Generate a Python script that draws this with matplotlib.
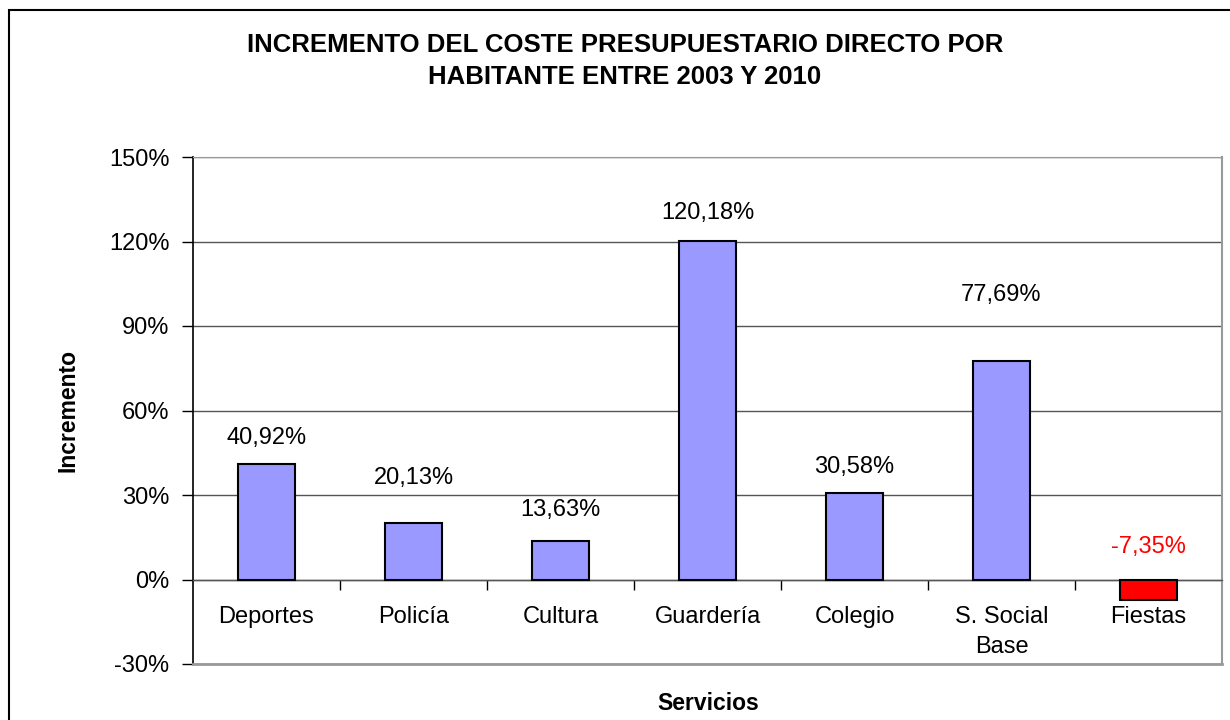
import numpy as np
import matplotlib.pyplot as plt
from matplotlib.patches import Rectangle

servicios = ["Deportes", "Policía", "Cultura", "Guardería", "Colegio", "S. Social\nBase", "Fiestas"]
incremento = [40.92, 20.13, 13.63, 120.18, 30.58, 77.69, -7.35]
etiquetas = ["40,92%", "20,13%", "13,63%", "120,18%", "30,58%", "77,69%", "-7,35%"]
# altura de las etiquetas (como en la hoja original)
etiqueta_y = [50.4, 35.9, 24.5, 130.0, 40.0, 101.0, 11.7]
ticks_y = [-30, 0, 30, 60, 90, 120, 150]

plt.rcParams['font.family'] = ['Liberation Sans', 'DejaVu Sans']

fig = plt.figure(figsize=(12.3, 7.2), dpi=100)
ax = fig.add_axes([193/1230, 1-664/720, (1222-193)/1230, (664-157)/720])

colores = ["#9999FF"] * 6 + ["#FF0000"]
x = np.arange(len(servicios))
ax.bar(x, incremento, width=0.39, color=colores, edgecolor="black", linewidth=1.5, zorder=3)

for i in range(len(x)):
    col = "red" if incremento[i] < 0 else "black"
    ax.text(x[i], etiqueta_y[i], etiquetas[i], ha="center", va="center", fontsize=17, color=col, zorder=4)

ax.set_xlim(-0.5, 6.5)
ax.set_ylim(-30, 150)
ax.set_yticks(ticks_y)
ax.set_yticklabels([str(t) + "%" for t in ticks_y], fontsize=17)
ax.yaxis.grid(True, color="#555555", linewidth=1)
ax.set_axisbelow(True)
ax.tick_params(axis="y", direction="out", length=8, width=1, pad=9)

ax.spines['bottom'].set_position(('data', 0))
ax.spines['bottom'].set_linewidth(1)
ax.spines['bottom'].set_color("#555555")
ax.spines['left'].set_linewidth(1.2)
ax.spines['top'].set_color("#999999")
ax.spines['right'].set_color("#999999")
ax.spines['right'].set_linewidth(1.5)
ax.set_xticks(x)
ax.set_xticklabels(servicios, fontsize=17, linespacing=1.45)
ax.set_xticks(np.arange(0.5, 6.5, 1), minor=True)
ax.tick_params(axis="x", which="major", length=0, pad=19)
ax.tick_params(axis="x", which="minor", direction="out", length=7, width=1, color="black")
ax.axhline(-30, color="#999999", linewidth=2, zorder=5, clip_on=False)

fig.text(68/1230, 1-410/720, "Incremento", rotation=90, ha="center", va="center", fontsize=16.5, fontweight="bold")
fig.text(708/1230, 1-703/720, "Servicios", ha="center", va="center", fontsize=16.5, fontweight="bold")
fig.text(625/1230, 1-61/720, "INCREMENTO DEL COSTE PRESUPUESTARIO DIRECTO POR\nHABITANTE ENTRE 2003 Y 2010",
         ha="center", va="center", fontsize=18.5, fontweight="bold", linespacing=1.45)

fig.patches.append(Rectangle((9/1230, -0.1), 1.2, 1 - 10/720 + 0.1, transform=fig.transFigure,
                             fill=False, edgecolor="black", linewidth=1.5))

plt.savefig("out.png", dpi=100)
